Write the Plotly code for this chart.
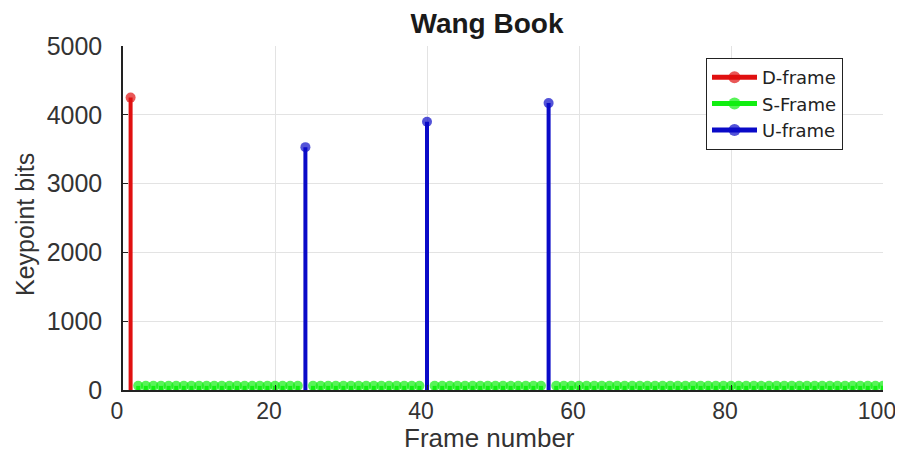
import plotly.graph_objects as go

# Data
d_frames = [1]
d_bits = [4250]
u_frames = [24, 40, 56]
u_bits = [3530, 3900, 4170]
s_frames = [f for f in range(2, 101) if f not in u_frames]
s_bits = [60] * len(s_frames)

x_ticks = [0, 20, 40, 60, 80, 100]
y_ticks = [0, 1000, 2000, 3000, 4000, 5000]


def stem_xy(xs, ys):
    sx, sy, sz = [], [], []
    for x, y in zip(xs, ys):
        sx += [x, x, None]
        sy += [0, y, None]
        sz += [0, 1, 0]
    return sx, sy, sz


fig = go.Figure()
series = [
    ("D-frame", d_frames, d_bits, "#e01010", 10, 4),
    ("S-Frame", s_frames, s_bits, "#11ee11", 10, 4),
    ("U-frame", u_frames, u_bits, "#0a0ac8", 10, 4),
]
for name, xs, ys, col, ms, lw in series:
    sx, sy, sz = stem_xy(xs, ys)
    fig.add_trace(go.Scatter(
        x=sx, y=sy, mode="lines+markers", name=name,
        line=dict(color=col, width=lw),
        marker=dict(color=col, size=[s * ms for s in sz], line=dict(width=0)),
        connectgaps=False,
    ))

# page has an 8px body margin; figure spans page x 8..903, y 8..455
W, H = 895, 447
fig.update_layout(
    width=W, height=H,
    margin=dict(l=115, r=20, t=38, b=65, autoexpand=False),
    paper_bgcolor="white", plot_bgcolor="white",
    font=dict(family="Liberation Sans, Arial, sans-serif", color="#333333"),
    title=dict(text="<b>Wang Book</b>", x=(487 - 8) / W, xref="container", xanchor="center",
               y=1 - 25 / H, yref="container", yanchor="bottom",
               font=dict(size=28, color="#1a1a1a")),
    showlegend=True,
    legend=dict(x=(706 - 123) / 760, y=1 - (58 - 46) / 344, xanchor="left", yanchor="top",
                bgcolor="white", bordercolor="#222222", borderwidth=1,
                font=dict(size=18, family="DejaVu Sans, sans-serif", color="#222222"),
                itemsizing="constant", itemwidth=45, tracegroupgap=0),
    annotations=[
        dict(text="Frame number", xref="paper", yref="paper", x=(489 - 123) / 760, y=0,
             xanchor="center", yanchor="top", yshift=-31, showarrow=False,
             font=dict(size=26, color="#333333")),
        dict(text="Keypoint bits", xref="paper", yref="paper", x=0, y=1 - (225 - 46) / 344,
             xanchor="center", yanchor="middle", xshift=-98, textangle=-90, showarrow=False,
             font=dict(size=25, color="#333333")),
    ],
)
fig.update_xaxes(
    range=[0, 100], tickvals=x_ticks, ticktext=[str(v) for v in x_ticks],
    showgrid=True, gridcolor="#e3e3e3", gridwidth=1,
    showline=True, linecolor="#222222", linewidth=1.5,
    ticks="inside", ticklen=5, tickcolor="#222222",
    tickfont=dict(size=23, color="#333333"),
    ticklabeloverflow="allow", ticklabelshift=-6,
    zeroline=False, automargin=False,
)
fig.update_yaxes(
    range=[0, 5000], tickvals=y_ticks, ticktext=[str(v) for v in y_ticks],
    showgrid=True, gridcolor="#e3e3e3", gridwidth=1,
    showline=True, linecolor="#222222", linewidth=1.5,
    ticks="inside", ticklen=5, tickcolor="#222222",
    tickfont=dict(size=25, color="#333333"),
    ticklabelstandoff=14,
    zeroline=False, automargin=False,
)

fig.write_html("out.html")
